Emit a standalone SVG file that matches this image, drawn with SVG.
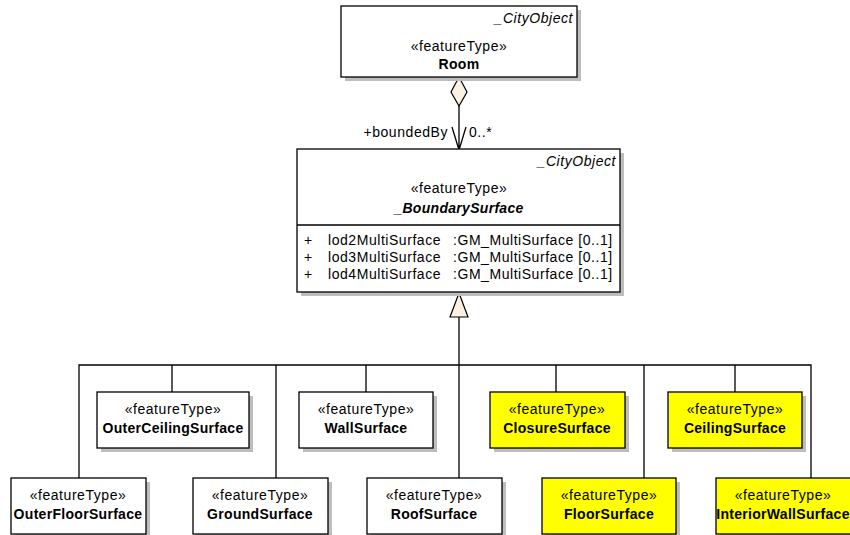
<svg xmlns="http://www.w3.org/2000/svg" width="850" height="535" viewBox="0 0 850 535">
<style>
text{font-family:"Liberation Sans",Arial,sans-serif;font-size:14px;letter-spacing:0.55px;fill:#000}
.c{text-anchor:middle}
.b{font-weight:bold;letter-spacing:0.3px}
.i{font-style:italic}
.r{text-anchor:end}
.box{fill:#fff;stroke:#000;stroke-width:1.3}
.y{fill:#ffff00}
.sh{fill:#bdbdbd}
.ln{fill:none;stroke:#000;stroke-width:1.3}
</style>
<rect width="850" height="535" fill="#fff"/>
<g id="connectors">
<path class="ln" d="M459,106 V150 M452,127 L459,150 L466,127"/>
<polygon points="459,77 467,92 459,106 451,92" fill="#fcf1e2" stroke="#000" stroke-width="1.2"/>
<text class="r" x="448" y="137">+boundedBy</text>
<text x="469" y="137">0..*</text>
<path class="ln" d="M459,317 V478 M79,478 V365 H811 V478 M172,365 V392 M276,365 V478 M366,365 V392 M556,365 V392 M644,365 V478 M735,365 V392"/>
<polygon points="459,293 468,317 450,317" fill="#fcf1e2" stroke="#000" stroke-width="1.2"/>
</g>
<g id="Room">
<rect class="sh" x="345" y="10" width="236" height="71"/>
<rect class="box" x="341" y="6" width="236" height="71"/>
<text class="r i" x="573" y="23">_CityObject</text>
<text class="c" x="459" y="51">«featureType»</text>
<text class="c b" x="459" y="69">Room</text>
</g>
<g id="BoundarySurface">
<rect class="sh" x="301" y="153" width="323" height="143"/>
<rect class="box" x="297" y="149" width="323" height="143"/>
<line class="ln" x1="297" y1="225" x2="620" y2="225"/>
<text class="r i" x="616" y="166">_CityObject</text>
<text class="c" x="459" y="193">«featureType»</text>
<text class="c b i" x="459" y="213">_BoundarySurface</text>
<text x="304" y="245">+</text><text x="328" y="245">lod2MultiSurface</text><text x="453" y="245">:GM_MultiSurface [0..1]</text>
<text x="304" y="262">+</text><text x="328" y="262">lod3MultiSurface</text><text x="453" y="262">:GM_MultiSurface [0..1]</text>
<text x="304" y="279">+</text><text x="328" y="279">lod4MultiSurface</text><text x="453" y="279">:GM_MultiSurface [0..1]</text>
</g>
<g id="OuterCeilingSurface">
<rect class="sh" x="101" y="396" width="152" height="56"/>
<rect class="box" x="97" y="392" width="152" height="56"/>
<text class="c" x="173" y="414">«featureType»</text>
<text class="c b" x="173" y="433">OuterCeilingSurface</text>
</g>
<g id="WallSurface">
<rect class="sh" x="303" y="396" width="134" height="56"/>
<rect class="box" x="299" y="392" width="134" height="56"/>
<text class="c" x="366" y="414">«featureType»</text>
<text class="c b" x="366" y="433">WallSurface</text>
</g>
<g id="ClosureSurface">
<rect class="sh" x="494" y="396" width="135" height="56"/>
<rect class="box y" x="490" y="392" width="135" height="56"/>
<text class="c" x="557" y="414">«featureType»</text>
<text class="c b" x="557" y="433">ClosureSurface</text>
</g>
<g id="CeilingSurface">
<rect class="sh" x="672" y="396" width="134" height="56"/>
<rect class="box y" x="668" y="392" width="134" height="56"/>
<text class="c" x="735" y="414">«featureType»</text>
<text class="c b" x="735" y="433">CeilingSurface</text>
</g>
<g id="OuterFloorSurface">
<rect class="sh" x="15" y="482" width="135" height="56"/>
<rect class="box" x="11" y="478" width="135" height="56"/>
<text class="c" x="78" y="500">«featureType»</text>
<text class="c b" x="78" y="519">OuterFloorSurface</text>
</g>
<g id="GroundSurface">
<rect class="sh" x="197" y="482" width="135" height="56"/>
<rect class="box" x="193" y="478" width="135" height="56"/>
<text class="c" x="260" y="500">«featureType»</text>
<text class="c b" x="260" y="519">GroundSurface</text>
</g>
<g id="RoofSurface">
<rect class="sh" x="371" y="482" width="135" height="56"/>
<rect class="box" x="367" y="478" width="135" height="56"/>
<text class="c" x="434" y="500">«featureType»</text>
<text class="c b" x="434" y="519">RoofSurface</text>
</g>
<g id="FloorSurface">
<rect class="sh" x="546" y="482" width="134" height="56"/>
<rect class="box y" x="542" y="478" width="134" height="56"/>
<text class="c" x="609" y="500">«featureType»</text>
<text class="c b" x="609" y="519">FloorSurface</text>
</g>
<g id="InteriorWallSurface">
<rect class="sh" x="720" y="482" width="135" height="56"/>
<rect class="box y" x="716" y="478" width="135" height="56"/>
<text class="c" x="783" y="500">«featureType»</text>
<text class="c b" x="783" y="519">InteriorWallSurface</text>
</g>
</svg>
